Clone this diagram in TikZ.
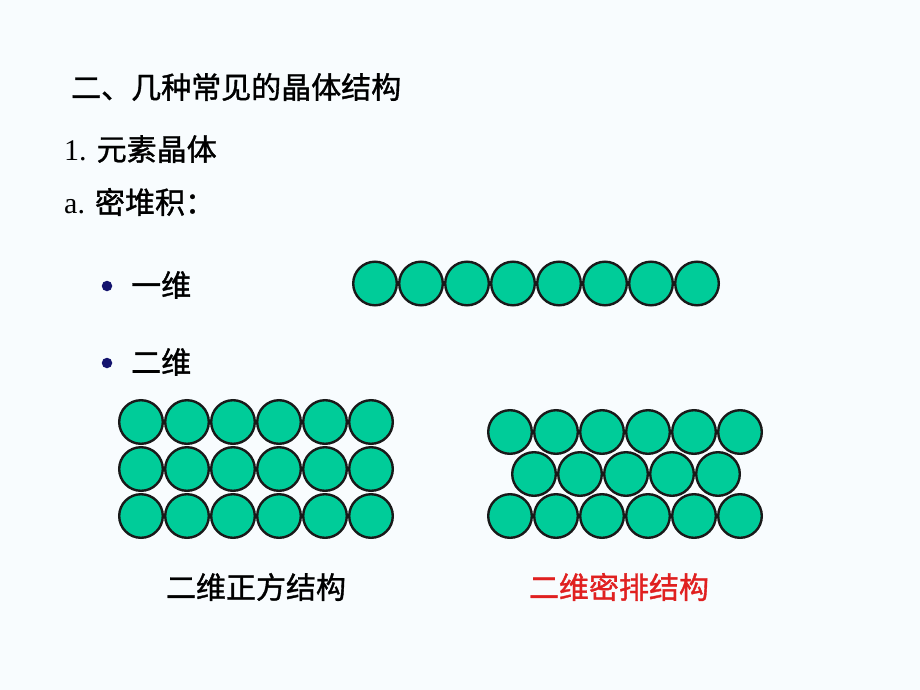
\documentclass[tikz,border=0pt]{standalone}
\usepackage{fontspec}
\setmainfont{Liberation Serif}
\newfontfamily\cjk[FakeBold=1.2]{Noto Sans CJK SC}
\definecolor{atomgreen}{RGB}{0,204,153}
\definecolor{slidebg}{RGB}{248,252,254}
\definecolor{bulletblue}{RGB}{20,20,110}
\definecolor{captionred}{RGB}{224,32,32}

\begin{document}
\begin{tikzpicture}[x=1pt,y=-1pt,
    atom/.style={circle,draw=black!90,fill=atomgreen,line width=2.4pt,
                 inner sep=0pt,minimum size=43.6pt},
    bulletdot/.style={circle,fill=bulletblue,inner sep=0pt,minimum size=10.5pt},
    slidetext/.style={anchor=west,inner sep=0pt,font=\fontsize{30}{36}\selectfont},
    caption/.style={inner sep=0pt,font=\fontsize{30}{36}\selectfont\cjk}]
\fill[slidebg] (0,0) rectangle (920,690);
\useasboundingbox (0,0) rectangle (920,690);

% headings
\node[slidetext] (title) at (71,87) {\cjk 二、几种常见的晶体结构};
\node[slidetext] (elem) at (64,149) {1. {\cjk 元素晶体}};
\node[slidetext] (dense) at (64,202) {a. {\cjk 密堆积：}};

% bullets
\node[bulletdot] (b1) at (107,286) {};
\node[slidetext] (oned) at (131,285) {\cjk 一维};
\node[bulletdot] (b2) at (107,363) {};
\node[slidetext] (twod) at (131,362) {\cjk 二维};

% one dimension
\foreach \i in {0,...,7}
  \node[atom] (line-\i) at (375+46*\i,283.5) {};

% square lattice
\foreach \r/\y in {0/422,1/469,2/516}
  \foreach \i in {0,...,5}
    \node[atom] (sq-\r-\i) at (141+46*\i,\y) {};

% close packed
\foreach \r/\y in {0/432,2/516}
  \foreach \i in {0,...,5}
    \node[atom] (cp-\r-\i) at (510+46*\i,\y) {};
\foreach \i in {0,...,4}
  \node[atom] (cp-1-\i) at (534+46*\i,474) {};

% captions
\node[caption] (sqlabel) at (256,587) {二维正方结构};
\node[caption,text=captionred] (cplabel) at (619,587) {二维密排结构};
\end{tikzpicture}
\end{document}
